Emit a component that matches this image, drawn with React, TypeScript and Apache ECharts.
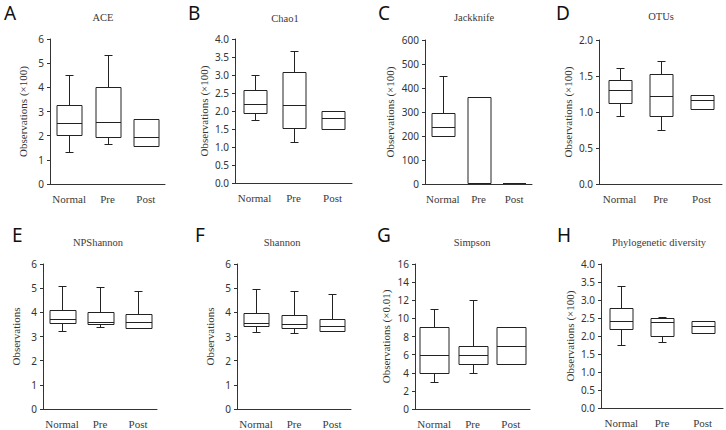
import React, { useEffect, useRef } from "react";
import * as echarts from "echarts";

const categories = ["Normal", "Pre", "Post"];

// [min, Q1, median, Q3, max]
const aceValues = [
  [1.34, 2.02, 2.52, 3.28, 4.49],
  [1.66, 1.96, 2.56, 4.0, 5.35],
  [1.58, 1.58, 1.94, 2.71, 2.71],
];
const chao1Values = [
  [1.74, 1.94, 2.19, 2.59, 3.0],
  [1.14, 1.53, 2.16, 3.09, 3.66],
  [1.5, 1.5, 1.8, 1.99, 1.99],
];
const jackknifeValues = [
  [201, 201, 236, 294, 450],
  [3, 3, 3, 364, 364],
  [3, 3, 3, 3, 3],
];
const otuValues = [
  [0.95, 1.13, 1.31, 1.44, 1.61],
  [0.75, 0.94, 1.22, 1.53, 1.71],
  [1.04, 1.04, 1.16, 1.24, 1.24],
];
const npShannonValues = [
  [3.24, 3.54, 3.72, 4.1, 5.1],
  [3.38, 3.5, 3.61, 4.03, 5.03],
  [3.34, 3.34, 3.59, 3.92, 4.9],
];
const shannonValues = [
  [3.17, 3.43, 3.54, 3.96, 4.95],
  [3.16, 3.34, 3.5, 3.89, 4.88],
  [3.24, 3.24, 3.45, 3.71, 4.74],
];
const simpsonValues = [
  [3, 4, 6, 9, 11],
  [4, 5, 6, 7, 12],
  [5, 5, 7, 9, 9],
];
const pdValues = [
  [1.76, 2.2, 2.43, 2.77, 3.4],
  [1.82, 1.99, 2.38, 2.49, 2.52],
  [2.08, 2.08, 2.29, 2.42, 2.42],
];

const panelTitles = ["ACE", "Chao1", "Jackknife", "OTUs", "NPShannon", "Shannon", "Simpson", "Phylogenetic diversity"];
const panelLetters = ["A", "B", "C", "D", "E", "F", "G", "H"];
const axisNames = [
  "Observations (×100)",
  "Observations (×100)",
  "Observations (×100)",
  "Observations (×100)",
  "Observations",
  "Observations",
  "Observations (×0.01)",
  "Observations (×100)",
];
const yMax = [6, 4, 600, 2, 6, 6, 16, 4];
const yInterval = [1, 0.5, 100, 0.5, 1, 1, 2, 0.5];
const yDecimals = [0, 1, 0, 1, 0, 0, 0, 1];

const allValues = [aceValues, chao1Values, jackknifeValues, otuValues, npShannonValues, shannonValues, simpsonValues, pdValues];

// layout
const grids = [
  { left: 50, top: 39, width: 115, height: 145 },
  { left: 235, top: 39, width: 117, height: 144 },
  { left: 425, top: 40, width: 107, height: 144 },
  { left: 599, top: 40, width: 123, height: 144 },
  { left: 43, top: 264, width: 114, height: 145 },
  { left: 237, top: 264, width: 114, height: 145 },
  { left: 415, top: 264, width: 115, height: 145 },
  { left: 601, top: 264, width: 122, height: 144 },
];
const boxWidths = [25, 23, 23, 23, 26, 25, 29, 23];
const titlePos = [
  [103, 12], [285, 13], [474, 12], [661, 11],
  [98, 237], [282, 237], [472, 237], [659, 237],
];
const letterPos = [
  [4, 3], [188, 3], [378, 3], [556, 3],
  [12, 225], [195, 225], [377, 225], [557, 225],
];

const LINE = "#222";

export default function App() {
  const ref = useRef<HTMLDivElement>(null);
  useEffect(() => {
    document.body.style.margin = "0";
    const chart = echarts.init(ref.current!, null, { renderer: "svg" });
    const option: any = {
      animation: false,
      backgroundColor: "#fff",
      title: [
        ...panelTitles.map((t, i) => ({
          text: t,
          left: titlePos[i][0],
          top: titlePos[i][1],
          textAlign: "center",
          padding: 0,
          textStyle: { fontFamily: "Liberation Serif", fontSize: 10.5, fontWeight: "normal", color: "#3a3a3a" },
        })),
        ...panelLetters.map((t, i) => ({
          text: t,
          left: letterPos[i][0],
          top: letterPos[i][1],
          padding: 0,
          textStyle: { fontFamily: "Noto Sans", fontSize: 19, fontWeight: "normal", color: "#111" },
        })),
      ],
      grid: grids.map((g) => ({ ...g })),
      xAxis: grids.map((_, i) => ({
        type: "category",
        gridIndex: i,
        data: categories,
        axisLine: { lineStyle: { color: "#333", width: 1 } },
        axisTick: { show: false },
        axisLabel: { interval: 0, fontFamily: "Liberation Serif", fontSize: 11, color: "#3a3a3a", margin: 9 },
        splitLine: { show: false },
      })),
      yAxis: grids.map((_, i) => ({
        type: "value",
        gridIndex: i,
        min: 0,
        max: yMax[i],
        interval: yInterval[i],
        name: axisNames[i],
        nameLocation: "middle",
        nameGap: yDecimals[i] ? 26 : i === 2 ? 30 : i === 6 ? 24 : 22,
        nameTextStyle: { fontFamily: "Liberation Serif", fontSize: 11, color: "#333" },
        axisLine: { show: true, lineStyle: { color: "#333", width: 1 } },
        axisTick: { show: true, length: 3, lineStyle: { color: "#333" } },
        axisLabel: {
          fontFamily: "Noto Sans",
          fontSize: 10,
          color: "#333",
          margin: 6,
          formatter: (v: number) => v.toFixed(yDecimals[i]),
        },
        splitLine: { show: false },
      })),
      series: allValues.map((vals, i) => ({
        type: "custom",
        xAxisIndex: i,
        yAxisIndex: i,
        encode: { x: 0, y: [1, 2, 3, 4, 5] },
        data: vals.map((v, k) => [k, ...v]),
        renderItem: (params: any, api: any) => {
          const idx = api.value(0);
          const v = [1, 2, 3, 4, 5].map((d) => api.value(d));
          const ys = v.map((val) => Math.round(api.coord([idx, val])[1]) + 0.5);
          const cx = Math.round(api.coord([idx, v[2]])[0]) + 0.5;
          const bw = boxWidths[i];
          const hw = bw / 2;
          const cw = 4;
          const st = { stroke: LINE, lineWidth: 1, fill: null };
          const children: any[] = [];
          if (v[4] > v[3]) {
            children.push({ type: "line", shape: { x1: cx, y1: ys[3], x2: cx, y2: ys[4] }, style: st });
            children.push({ type: "line", shape: { x1: cx - cw, y1: ys[4], x2: cx + cw, y2: ys[4] }, style: st });
          }
          if (v[0] < v[1]) {
            children.push({ type: "line", shape: { x1: cx, y1: ys[1], x2: cx, y2: ys[0] }, style: st });
            children.push({ type: "line", shape: { x1: cx - cw, y1: ys[0], x2: cx + cw, y2: ys[0] }, style: st });
          }
          children.push({
            type: "rect",
            shape: { x: Math.round(cx - hw), y: ys[3], width: bw, height: ys[1] - ys[3] },
            style: { stroke: LINE, lineWidth: 1, fill: "#fff" },
          });
          children.push({ type: "line", shape: { x1: Math.round(cx - hw), y1: ys[2], x2: Math.round(cx - hw) + bw, y2: ys[2] }, style: st });
          return { type: "group", children };
        },
      })),
    };
    chart.setOption(option);
    return () => chart.dispose();
  }, []);
  return <div ref={ref} style={{ width: 726, height: 430 }} />;
}
